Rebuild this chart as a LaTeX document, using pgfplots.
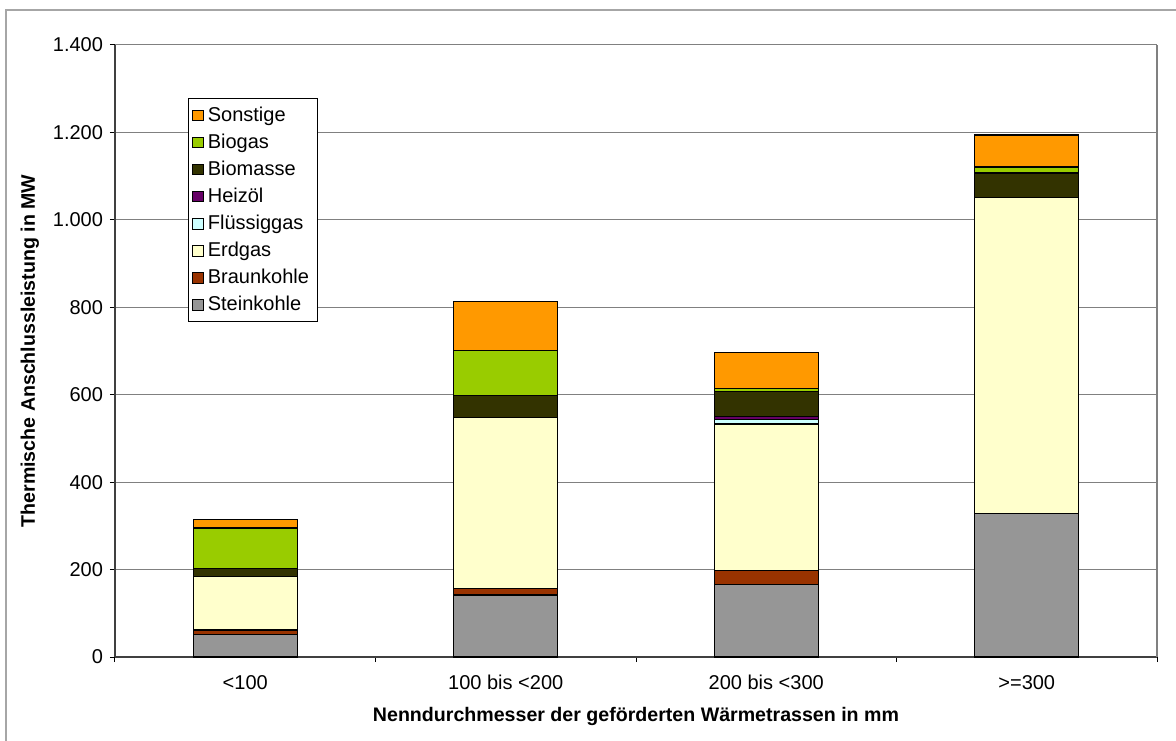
\documentclass[border=0pt]{standalone}
\usepackage{pgfplots}
\pgfplotsset{compat=1.18}
\usepackage{fontspec}
\setmainfont{Liberation Sans}
\definecolor{cStein}{HTML}{969696}
\definecolor{cBraun}{HTML}{993300}
\definecolor{cErd}{HTML}{FFFFCC}
\definecolor{cFl}{HTML}{CCFFFF}
\definecolor{cHeiz}{HTML}{660066}
\definecolor{cBiom}{HTML}{333300}
\definecolor{cBiog}{HTML}{99CC00}
\definecolor{cSonst}{HTML}{FF9900}
\begin{document}
\fontsize{10pt}{12pt}\selectfont
\begin{tikzpicture}
\useasboundingbox (-57.5pt,-41.5pt) rectangle (530.5pt,328.5pt);
\draw[gray!70, line width=0.6pt] (-54.5pt,-45pt) -- (-54.5pt,323.5pt) -- (535pt,323.5pt);
\begin{axis}[
  at={(0pt,0pt)}, anchor=south west,
  scale only axis, width=521pt, height=306pt,
  ybar stacked, bar width=0.4,
  xmin=-0.5, xmax=3.5, ymin=0, ymax=1400,
  xtick={-0.5,0.5,1.5,2.5,3.5},
  xticklabels={<100,100 bis <200,200 bis <300,>=300},
  x tick label as interval,
  ytick={0,200,...,1400},
  axis lines*=left,
  axis line style={draw=black!75, line width=0.6pt, -},
  tick align=outside,
  major tick length=2.5pt,
  tick style={black, line width=0.5pt},
  ymajorgrids, grid style={gray, line width=0.5pt},
  /pgf/number format/.cd, 1000 sep={.}, assume math mode=true,
  /pgfplots/.cd,
  ticklabel style={font=\fontsize{10pt}{12pt}\selectfont},
  xticklabel style={yshift=-3pt},
  xlabel={\bfseries Nenndurchmesser der geförderten Wärmetrassen in mm},
  ylabel={\bfseries Thermische Anschlussleistung in MW},
  xlabel style={at={(axis description cs:0.5,-0.0964)}, anchor=center, font=\fontsize{9.8pt}{11pt}\selectfont},
  ylabel style={at={(axis description cs:-0.0816,0.5)}, anchor=center, font=\fontsize{9.8pt}{11pt}\selectfont},
  legend style={at={(axis description cs:0.070,0.913)}, anchor=north west,
    draw=black, fill=white, line width=0.5pt, font=\fontsize{10pt}{12pt}\selectfont,
    row sep=0.8pt, inner xsep=2pt, inner ysep=2pt},
  legend cell align=left,
  reverse legend,
  legend image code/.code={\draw[#1,draw=black,line width=0.5pt] (0pt,-2.6pt) rectangle (5.2pt,2.6pt);},
  every axis plot/.append style={draw=black, line width=0.6pt},
]
\addplot[fill=cStein] coordinates {(0,52) (1,142) (2,165) (3,328)};
\addlegendentry{Steinkohle}
\addplot[fill=cBraun] coordinates {(0,10) (1,14) (2,32) (3,0)};
\addlegendentry{Braunkohle}
\addplot[fill=cErd] coordinates {(0,123) (1,391) (2,336) (3,723)};
\addlegendentry{Erdgas}
\addplot[fill=cFl] coordinates {(0,0) (1,0) (2,11) (3,0)};
\addlegendentry{Flüssiggas}
\addplot[fill=cHeiz] coordinates {(0,0) (1,0) (2,7) (3,0)};
\addlegendentry{Heizöl}
\addplot[fill=cBiom] coordinates {(0,18) (1,52) (2,57) (3,56)};
\addlegendentry{Biomasse}
\addplot[fill=cBiog] coordinates {(0,92) (1,102) (2,6) (3,14)};
\addlegendentry{Biogas}
\addplot[fill=cSonst] coordinates {(0,20) (1,112) (2,82) (3,73)};
\addlegendentry{Sonstige}
\end{axis}
\draw[gray, line width=0.6pt] (521pt,0pt) -- (521pt,306pt);
\end{tikzpicture}
\end{document}
